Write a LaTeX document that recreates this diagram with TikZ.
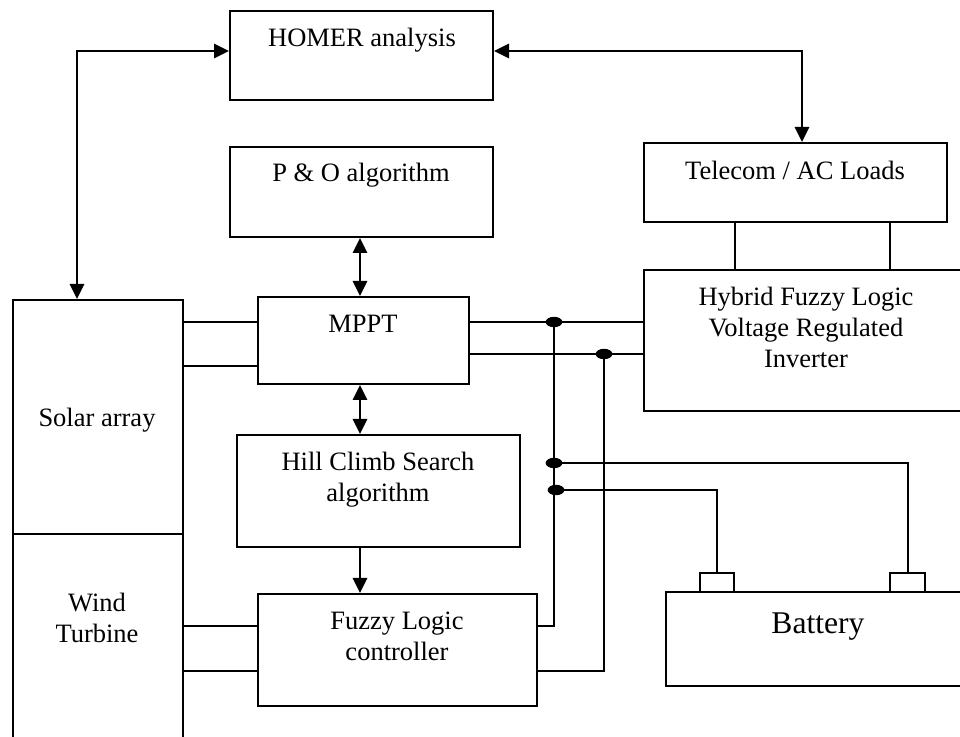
\documentclass[tikz,border=0pt]{standalone}
\usepackage{fontspec}
\setmainfont{Liberation Serif}
\usepackage{tikz}
\usetikzlibrary{positioning}
\usetikzlibrary{arrows.meta}
\usetikzlibrary{fit}
\tikzset{blk/.style={draw, line width=1pt, inner sep=0pt}}
\tikzset{lbl/.style={inner sep=0pt, align=center, font=\fontsize{13.25}{15.5}\selectfont}}
\tikzset{wire/.style={line width=1pt}}
\tikzset{link/.style={line width=1.4pt}}

\begin{document}
\begin{tikzpicture}[x=0.5pt, y=-0.5pt, >={Triangle[length=7.5pt,width=7pt]}]
\useasboundingbox (0,0) rectangle (960,737);
\clip (0,0) rectangle (960,737);
% blocks
\node[blk, fit={(230,11) (493,100)}] (homer) {};
\node[blk, fit={(230,147) (493,237)}] (po) {};
\node[blk, fit={(644,143) (947,222)}] (loads) {};
\node[blk, fit={(644,270) (975,411)}] (inv) {};
\node[blk, fit={(13,300) (183,534)}] (solar) {};
\node[blk, fit={(13,534) (183,760)}] (wind) {};
\node[blk, fit={(258,297) (469,384)}] (mppt) {};
\node[blk, fit={(237,435) (520,547)}] (hcs) {};
\node[blk, fit={(258,594) (537,706)}] (flc) {};
\node[blk, fit={(666,592) (975,686)}] (batt) {};
\node[blk, fit={(700,573) (734,592)}] (tpos) {};
\node[blk, fit={(890,573) (925,592)}] (tneg) {};
% texts
\node[lbl, anchor=base] (homert) at (362,47) {HOMER analysis};
\node[lbl, anchor=base] (pot) at (361,182) {P \& O algorithm};
\node[lbl, anchor=base] (loadst) at (795,180) {Telecom / AC Loads};
\node[lbl] (invt) at (806,327) {Hybrid Fuzzy Logic\\Voltage Regulated\\Inverter};
\node[lbl, anchor=base] (mpptt) at (363,333) {MPPT};
\node[lbl, anchor=base] (solart) at (97,427) {Solar array};
\node[lbl] (windt) at (97,618) {Wind\\Turbine};
\node[lbl] (hcst) at (378,480) {Hill Climb Search\\algorithm};
\node[lbl] (flct) at (397,636) {Fuzzy Logic\\controller};
\node[lbl, anchor=base, font=\fontsize{15.8}{18}\selectfont] (battt) at (818,634) {Battery};
% arrows
\coordinate (ha) at (77,51);
\coordinate (hb) at (802,51);
\coordinate (ax) at (360,0);
\draw[link, <->] (ha |- solar.north) -- (ha) -- (ha -| homer.west);
\draw[link, <->] (hb -| homer.east) -- (hb) -- (hb |- loads.north);
\draw[link, <->] (ax |- po.south) -- (ax |- mppt.north);
\draw[link, <->] (ax |- mppt.south) -- (ax |- hcs.north);
\draw[link, ->] (ax |- hcs.south) -- (ax |- flc.north);
% wiring
\coordinate (la) at (735,0);
\coordinate (lb) at (890,0);
\foreach \c in {la,lb}{
\draw[wire] (\c |- loads.south) -- (\c |- inv.north);
}
\coordinate (s1) at (0,322);
\coordinate (s2) at (0,366);
\coordinate (m1) at (0,322);
\coordinate (m2) at (0,354);
\coordinate (w1) at (0,626);
\coordinate (w2) at (0,671);
\foreach \c in {s1,s2}{
\draw[wire] (\c -| solar.east) -- (\c -| mppt.west);
}
\foreach \c in {m1,m2}{
\draw[wire] (\c -| mppt.east) -- (\c -| inv.west);
}
\foreach \c in {w1,w2}{
\draw[wire] (\c -| wind.east) -- (\c -| flc.west);
}
\coordinate (j1) at (554,322);
\coordinate (j2) at (604,354);
\coordinate (j3) at (554,463);
\coordinate (j4) at (556,490);
\draw[wire] (j1) -- (j1 |- w1) -- (w1 -| flc.east);
\draw[wire] (j2) -- (j2 |- w2) -- (w2 -| flc.east);
\draw[wire] (j3) -| (tneg.north);
\draw[wire] (j4) -| (tpos.north);
\foreach \j in {j1,j2,j3,j4}{
\fill (\j) ellipse (4.2pt and 2.6pt);
}
\end{tikzpicture}
\end{document}
